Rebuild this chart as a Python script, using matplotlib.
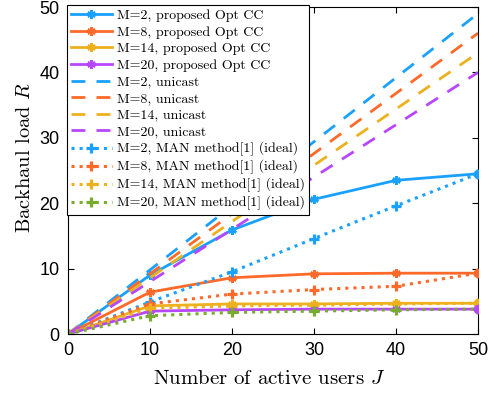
import matplotlib
matplotlib.use("Agg")
import matplotlib.pyplot as plt
import numpy as np

plt.rcParams['mathtext.fontset'] = 'cm'

J = [0, 10, 20, 30, 40, 50]
M_vals = [2, 8, 14, 20]
colors = ['#1AA1FF', '#FF6929', '#EDB120', '#B746FF']
man_colors = ['#1AA1FF', '#FF6929', '#EDB120', '#77AC30']

opt_cc = {
    2: [0, 9.0, 15.9, 20.6, 23.5, 24.5],
    8: [0, 6.4, 8.6, 9.2, 9.3, 9.3],
    14: [0, 4.3, 4.6, 4.6, 4.7, 4.7],
    20: [0, 3.5, 3.7, 3.8, 3.8, 3.8],
}
unicast = {
    2: [0, 9.8, 19.6, 29.4, 39.2, 49.0],
    8: [0, 9.2, 18.4, 27.6, 36.8, 46.0],
    14: [0, 8.6, 17.2, 25.8, 34.4, 43.0],
    20: [0, 8.0, 16.0, 24.0, 32.0, 40.0],
}
man = {
    2: [0, 4.9, 9.5, 14.6, 19.6, 24.5],
    8: [0, 4.6, 6.1, 6.8, 7.3, 9.3],
    14: [0, 3.9, 4.3, 4.4, 4.6, 4.7],
    20: [0, 2.8, 3.3, 3.5, 3.7, 3.8],
}

fig = plt.figure(figsize=(4.97, 3.98), dpi=100)
ax = fig.add_axes([0.1368, 0.1608, 0.825, 0.8216])

ast = (6, 2, 0)
for M, c in zip(M_vals, colors):
    ax.plot(J, opt_cc[M], '-', color=c, lw=2, marker=ast, ms=6, mew=1.8,
            label=f'M={M}, proposed Opt CC')
    ax.plot(J[-1:], opt_cc[M][-1:], 'o', color=c, ms=6, zorder=5)
for M, c in zip(M_vals, colors):
    ax.plot(J, unicast[M], color=c, lw=2, dashes=(5, 4),
            label=f'M={M}, unicast')
for M, c in zip(M_vals, man_colors):
    ax.plot(J, man[M], ':', color=c, lw=2.2, marker='+', ms=7, mew=2.3,
            label=f'M={M}, MAN method[1] (ideal)')

ax.set_xlim(0, 50)
ax.set_ylim(0, 50)
ax.set_xticks(range(0, 51, 10))
ax.set_yticks(range(0, 51, 10))
ax.tick_params(direction='in', top=True, right=True, labelsize=13, length=4,
               width=0.8, pad=6)
for lab in ax.get_xticklabels() + ax.get_yticklabels():
    lab.set_family('Liberation Sans')
for s in ax.spines.values():
    s.set_linewidth(0.8)

ax.set_xlabel(r'Number of active users $J$', family='cmr10', fontsize=15)
ax.set_ylabel(r'Backhaul load $R$', family='cmr10', fontsize=14.7)
ax.xaxis.set_label_coords(0.49, -0.11)
ax.yaxis.set_label_coords(-0.082, 0.541)

leg = ax.legend(loc='upper left', bbox_to_anchor=(-0.002, 1.006), borderaxespad=0,
                prop={'family': 'cmr10', 'size': 10}, handlelength=2.9,
                handletextpad=0.4, labelspacing=0.28, borderpad=0.3,
                fancybox=False, edgecolor='black', framealpha=1)
leg.get_frame().set_linewidth(0.8)

fig.savefig('out.png', dpi=100)
